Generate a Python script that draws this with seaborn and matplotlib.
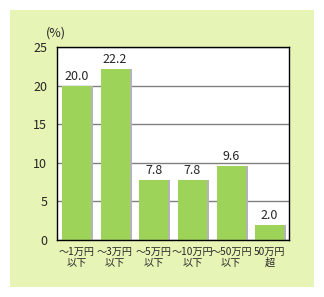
import matplotlib
matplotlib.use("Agg")
import matplotlib.pyplot as plt
import seaborn as sns
import pandas as pd
from matplotlib.patches import Rectangle

categories = ["～1万円\n以下", "～3万円\n以下", "～5万円\n以下", "～10万円\n以下", "～50万円\n以下", "50万円\n超"]
values = [20.0, 22.2, 7.8, 7.8, 9.6, 2.0]
yticks = [0, 5, 10, 15, 20, 25]

sns.set_style("white")
plt.rcParams['font.family'] = ['Noto Sans CJK JP', 'DejaVu Sans']

df = pd.DataFrame({"cat": categories, "val": values})

fig = plt.figure(figsize=(3.24, 2.97), dpi=100)
fig.patch.set_facecolor("white")
fig.patches.append(Rectangle((10/324, 1 - 287/297), 304/324, 277/297,
                             transform=fig.transFigure, facecolor="#E6F5B6",
                             edgecolor="none", zorder=-10))
ax = fig.add_axes([57/324, 1 - 240/297, 232/324, 193/297])
ax.set_zorder(1)
ax.set_facecolor("white")

# shadow bars
sns.barplot(data=df, x="cat", y="val", color="#B4B4B4", width=0.75,
            saturation=1, ax=ax, zorder=2)
for p in ax.patches:
    p.set_x(p.get_x() + 0.06)
    p.set_edgecolor("none")
n_shadow = len(ax.patches)
sns.barplot(data=df, x="cat", y="val", color="#9ED35A", width=0.75,
            saturation=1, ax=ax, zorder=3)
for p in ax.patches[n_shadow:]:
    p.set_edgecolor("none")

for i, v in enumerate(values):
    ax.text(i, v + 0.35, f"{v:.1f}", ha="center", va="bottom", fontsize=9, zorder=4)

ax.set_ylim(0, 25)
ax.set_xlim(-0.5, len(categories) - 0.5)
ax.set_yticks(yticks)
ax.set_yticklabels([str(t) for t in yticks], fontsize=9)
ax.yaxis.grid(True, color="#808080", linewidth=1)
ax.set_axisbelow(True)
ax.set_xlabel("")
ax.set_ylabel("")
ax.tick_params(axis="y", length=0, pad=7)
ax.tick_params(axis="x", which="major", length=0, pad=5, labelsize=7.3)
for lab in ax.get_xticklabels():
    lab.set_linespacing(1.1)
ax.set_xticks([i + 0.5 for i in range(len(categories) - 1)], minor=True)
ax.tick_params(axis="x", which="minor", direction="in", length=3, width=1, color="black")
for s in ax.spines.values():
    s.set_visible(True)
    s.set_color("black")
    s.set_linewidth(1)
    s.set_zorder(5)

fig.text(56/324, 1 - 33/297, "(%)", ha="center", va="center", fontsize=9)

fig.savefig("out.png", dpi=100)
